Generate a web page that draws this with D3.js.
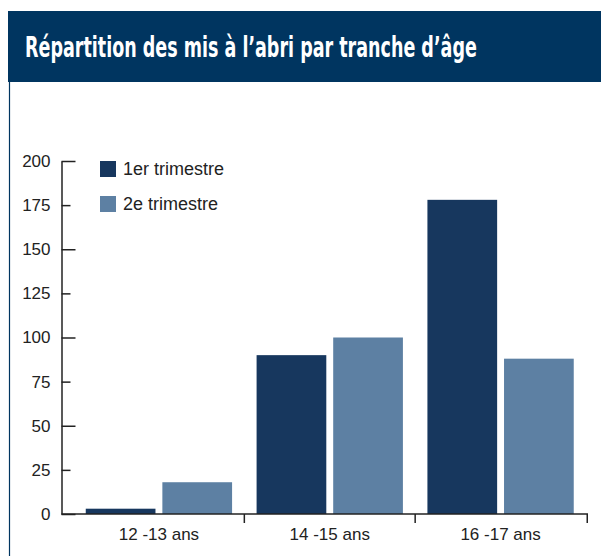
<!DOCTYPE html>
<html>
<head>
<meta charset="utf-8">
<script src="https://cdn.jsdelivr.net/npm/d3@7"></script>
<style>
  body { margin: 0; background: #fff; }
  svg { display: block; }
</style>
</head>
<body>
<div id="chart"></div>
<script>
// values
var categories = ["12 -13 ans", "14 -15 ans", "16 -17 ans"];
var seriesNames = ["1er trimestre", "2e trimestre"];
var trimestre1 = [3, 90, 178];
var trimestre2 = [18, 100, 88];
var yTicks = [0, 25, 50, 75, 100, 125, 150, 175, 200];
var title = "Répartition des mis à l’abri par tranche d’âge";

var colors = ["#17375e", "#5d80a3"];
var navy = "#003560";
var ink = "#222";

var width = 601, height = 556;

var svg = d3.select("#chart").append("svg")
    .attr("width", width)
    .attr("height", height);

// header band + left border of the panel
svg.append("rect")
    .attr("x", 8).attr("y", 11)
    .attr("width", width - 8).attr("height", 71)
    .attr("fill", navy);

svg.append("line")
    .attr("x1", 9.5).attr("x2", 9.5)
    .attr("y1", 82).attr("y2", height)
    .attr("stroke", navy)
    .attr("stroke-width", 1.2);

// title: condensed bold, squeezed to the width it has in the picture
var titleG = svg.append("g");
var titleText = titleG.append("text")
    .attr("x", 0).attr("y", 0)
    .attr("fill", "#fff")
    .attr("font-family", "'DejaVu Sans Condensed', 'Liberation Sans Narrow', 'Liberation Sans', sans-serif")
    .attr("font-weight", "bold")
    .attr("font-stretch", "condensed")
    .attr("font-size", 28)
    .text(title);
var tw = titleText.node().getComputedTextLength();
var sx = Math.min(1, 452 / tw);
titleG.attr("transform", "translate(25,57) scale(" + sx + ",1)");

// scales
var axisX = 61.5, axisEnd = 588;
var x0 = d3.scaleBand().domain(categories).range([73.5, 586]).padding(0);
var x1 = d3.scaleBand().domain(seriesNames).range([0, x0.bandwidth()])
    .paddingInner(0.09).paddingOuter(0.16);
var y = d3.scaleLinear().domain([0, 200]).range([514, 161]);

var fontFam = "'Liberation Sans', Arial, sans-serif";

// bars
var rows = categories.map(function(c, i) {
  return { cat: c, values: [trimestre1[i], trimestre2[i]] };
});

var groups = svg.append("g").selectAll("g")
    .data(rows)
    .enter().append("g")
    .attr("transform", function(d) { return "translate(" + x0(d.cat) + ",0)"; });

groups.selectAll("rect")
    .data(function(d) { return d.values.map(function(v, j) { return { name: seriesNames[j], v: v, j: j }; }); })
    .enter().append("rect")
    .attr("x", function(d) { return x1(d.name); })
    .attr("width", x1.bandwidth())
    .attr("y", function(d) { return y(d.v); })
    .attr("height", function(d) { return y(0) - y(d.v); })
    .attr("fill", function(d) { return colors[d.j]; });

// y axis, ticks pointing inward
var yAxis = d3.axisLeft(y)
    .tickValues(yTicks)
    .tickSizeInner(-14)
    .tickSizeOuter(0)
    .tickPadding(11);

var gy = svg.append("g")
    .attr("transform", "translate(" + axisX + ",0)")
    .call(yAxis);

gy.selectAll(".tick line")
    .attr("x2", function(d) { return d % 50 === 0 ? 14 : 9; });
gy.selectAll("path, line").attr("stroke", ink).attr("stroke-width", 1.5);
gy.selectAll("text")
    .attr("font-family", fontFam)
    .attr("font-size", 17)
    .attr("fill", ink);

// x axis: labels at band centres, ticks at band ends
var xAxis = d3.axisBottom(x0).tickSize(0).tickPadding(14);
var gx = svg.append("g")
    .attr("transform", "translate(0," + y(0) + ")")
    .call(xAxis);
gx.select(".domain").remove();
gx.selectAll("text")
    .attr("font-family", fontFam)
    .attr("font-size", 17)
    .attr("fill", ink);

gx.append("line")
    .attr("x1", axisX).attr("x2", axisEnd)
    .attr("stroke", ink).attr("stroke-width", 1.5);

gx.selectAll(".sep")
    .data(categories)
    .enter().append("line")
    .attr("class", "sep")
    .attr("x1", function(d, i) { return i === categories.length - 1 ? axisEnd - 0.75 : x0(d) + x0.bandwidth(); })
    .attr("x2", function(d, i) { return i === categories.length - 1 ? axisEnd - 0.75 : x0(d) + x0.bandwidth(); })
    .attr("y1", 0).attr("y2", 9)
    .attr("stroke", ink).attr("stroke-width", 1.5);

// legend
var legend = svg.append("g").selectAll("g")
    .data(seriesNames)
    .enter().append("g")
    .attr("transform", function(d, i) { return "translate(100," + (161 + i * 35) + ")"; });

legend.append("rect")
    .attr("width", 16).attr("height", 16)
    .attr("fill", function(d, i) { return colors[i]; });

legend.append("text")
    .attr("x", 23).attr("y", 14)
    .attr("font-family", fontFam)
    .attr("font-size", 18)
    .attr("fill", ink)
    .text(function(d) { return d; });
</script>
</body>
</html>
